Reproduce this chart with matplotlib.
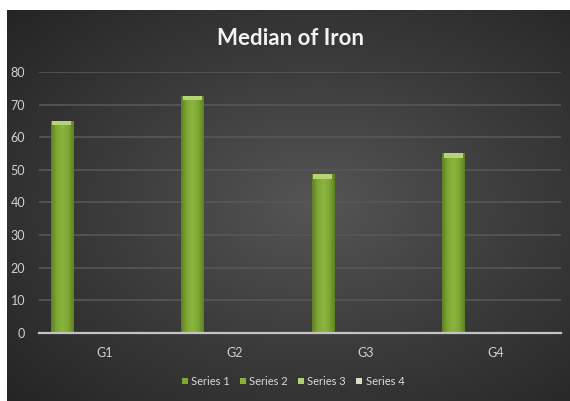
import numpy as np
import matplotlib
matplotlib.use('Agg')
import matplotlib.pyplot as plt
from matplotlib.colors import LinearSegmentedColormap
from matplotlib.patches import Patch

plt.rcParams['font.family'] = ['Lato', 'DejaVu Sans']

# chart data
title = 'Median of Iron'
groups = ['G1', 'G2', 'G3', 'G4']
series_names = ['Series 1', 'Series 2', 'Series 3', 'Series 4']
series_1 = [65.0, 72.6, 48.6, 55.0]
series_2 = [0, 0, 0, 0]
series_3 = [0, 0, 0, 0]
series_4 = [0, 0, 0, 0]
y_ticks = [0, 10, 20, 30, 40, 50, 60, 70, 80]

series_values = [series_1, series_2, series_3, series_4]
series_colors = ['#7fa832', '#86b236', '#b3cf72', '#d8ddc6']

W, H = 570, 401
fig = plt.figure(figsize=(W / 100, H / 100), dpi=100)
fig.patch.set_facecolor('white')

# dark radial background of the chart area
bg = fig.add_axes([7 / W, 0, (W - 7) / W, (H - 10) / H])
bg.set_axis_off()
yy, xx = np.mgrid[0:1:300j, 0:1:400j]
r = np.sqrt(((xx - 0.55) / 0.75) ** 2 + ((yy - 0.5) / 0.75) ** 2)
bg_cmap = LinearSegmentedColormap.from_list('bg', ['#555555', '#3b3b3b', '#242424'])
bg.imshow(r, cmap=bg_cmap, aspect='auto', extent=[0, 1, 0, 1], vmin=0, vmax=1)

ax = fig.add_axes([39 / W, (H - 332.7) / H, (561 - 39) / W, (332.7 - 72) / H])
ax.set_facecolor('none')

x = np.arange(len(groups))
bar_w = 0.172
step = 0.217
bar_cmap = LinearSegmentedColormap.from_list('bar', ['#5e8222', '#7fa836', '#8bb540', '#7fa836', '#5e8222'])
for i, vals in enumerate(series_values):
    pos = x + (i - 1.5) * step
    bars = ax.bar(pos, vals, width=bar_w, color=series_colors[i], zorder=3, linewidth=0)
    if i == 0:
        grad = np.linspace(0, 1, 50).reshape(1, -1)
        for b in bars:
            im = ax.imshow(grad, cmap=bar_cmap, aspect='auto', zorder=4,
                           extent=[b.get_x(), b.get_x() + b.get_width(), 0, b.get_height()])
            im.set_clip_path(b)
        # light bevel on the top of each bar
        ax.bar(pos, [1.3] * len(vals), bottom=np.array(vals) - 1.3, width=bar_w * 0.85,
               color='#b6d474', zorder=5, linewidth=0)

ax.set_xlim(-0.5, 3.5)
ax.set_ylim(0, 80)
ax.set_yticks(y_ticks)
ax.set_xticks(x)
ax.set_xticklabels(groups)
ax.tick_params(axis='both', length=0, colors='#d0d0d0', labelsize=9)
ax.tick_params(axis='x', pad=10)
ax.tick_params(axis='y', pad=10)
ax.grid(axis='y', color='#575757', linewidth=1.2, zorder=0)
for s in ['top', 'right', 'left']:
    ax.spines[s].set_visible(False)
ax.spines['bottom'].set_color('#c4c4c4')
ax.spines['bottom'].set_linewidth(1.6)
ax.spines['bottom'].set_zorder(6)

fig.text(0.51, (H - 38.5) / H, title, ha='center', va='center', color='#f2f2f2',
         fontsize=16, fontweight='bold')

handles = [Patch(facecolor=c, edgecolor='none') for c in series_colors]
fig.legend(handles, series_names, loc='center', bbox_to_anchor=(293 / W, (H - 381.5) / H),
           ncol=4, frameon=False, fontsize=8, labelcolor='#d9d9d9',
           handlelength=0.55, handleheight=0.55, handletextpad=0.3, columnspacing=0.9)

fig.savefig('out.png', dpi=100, facecolor=fig.get_facecolor())
